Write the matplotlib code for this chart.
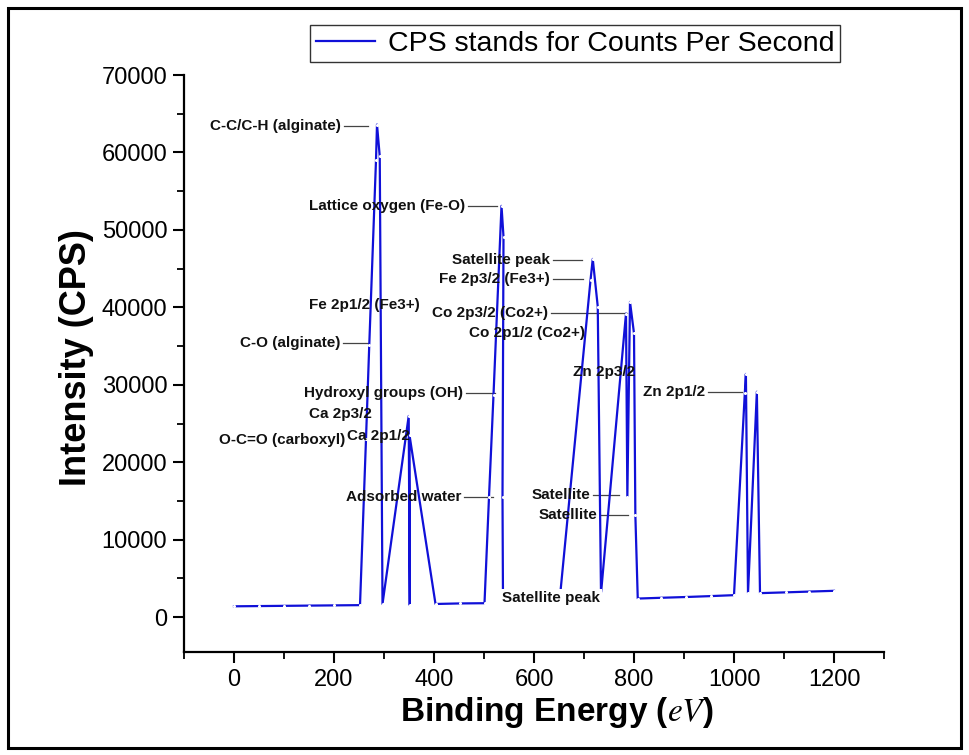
import matplotlib
matplotlib.use("Agg")
import matplotlib.pyplot as plt
from matplotlib.patches import Rectangle
from matplotlib.ticker import MultipleLocator

plt.rcParams['font.family'] = ['Liberation Sans', 'DejaVu Sans']
plt.rcParams['mathtext.fontset'] = 'stix'

# Spectrum (binding energy in eV, intensity in CPS)
energy = [0, 50, 100, 150, 200, 252, 264, 270.5, 284, 286, 291.5, 297,
          349.4, 351.5, 351, 403, 451, 501, 510, 519, 535, 539, 537, 538,
          651, 713, 717.5, 727.5, 734, 784, 786.7, 792, 800, 802.7, 807.5,
          854, 904, 954, 1000, 1021.6, 1023.8, 1028, 1045.7, 1052, 1103, 1150, 1200]
intensity = [1400, 1430, 1460, 1490, 1520, 1550, 23000, 35100, 59000, 63600, 59500, 1700,
             25970, 1550, 23500, 1700, 1770, 1800, 15500, 28700, 53100, 49100, 15500, 2000,
             2000, 43500, 46250, 40100, 3060, 39200, 15500, 40700, 36650, 13200, 2400,
             2500, 2600, 2720, 2840, 28900, 31400, 3100, 29100, 3100, 3200, 3300, 3400]

# Annotations: label, text end x, text y, leader target x (None = no leader)
labels = ["C-C/C-H (alginate)", "Lattice oxygen (Fe-O)", "Satellite peak", "Fe 2p3/2 (Fe3+)",
          "Fe 2p1/2 (Fe3+)", "Co 2p3/2 (Co2+)", "Co 2p1/2 (Co2+)", "C-O (alginate)",
          "Zn 2p3/2", "Zn 2p1/2", "Hydroxyl groups (OH)", "Ca 2p3/2", "O-C=O (carboxyl)",
          "Ca 2p1/2", "Adsorbed water", "Satellite", "Satellite", "Satellite peak"]
label_x = [214, 462, 632, 632, 372, 628, 702, 212, 802, 942, 458, 276, 222, 352, 454, 712, 726, 732]
label_y = [63390, 53060, 46090, 43640, 40280, 39250, 36660, 35370, 31630, 29050, 28920, 26210,
           22850, 23370, 15490, 15750, 13170, 2450]
target_x = [268, 526, 696, 698, None, 786, None, 268, None, 1016, 522, None, 228, None, 518, 770, 788, None]

fig = plt.figure(figsize=(9.69, 7.55), dpi=100)
ax = fig.add_axes([184/969, 1-652/755, 700/969, 577/755])

ax.plot(energy, intensity, color='#1010d8', lw=1.6, zorder=2,
        label='CPS stands for Counts Per Second')
ax.plot(energy, intensity, ls='none', marker='o', ms=2.2, mec='none', mfc='white', zorder=3)

for lab, tx, ty, gx in zip(labels, label_x, label_y, target_x):
    bbox = None
    if lab == "Satellite peak" and ty < 5000:
        bbox = dict(facecolor='white', edgecolor='none', pad=1.5)
    ax.text(tx, ty, lab, ha='right', va='center', fontsize=11, fontweight='bold',
            color='#111111', zorder=4, bbox=bbox)
    if gx is not None:
        ax.plot([tx + 5, gx], [ty, ty], color='#444444', lw=0.9, zorder=1)

ax.set_xlim(-100, 1300)
ax.set_ylim(-4500, 70000)
ax.xaxis.set_major_locator(MultipleLocator(200))
ax.xaxis.set_minor_locator(MultipleLocator(100))
ax.yaxis.set_major_locator(MultipleLocator(10000))
ax.yaxis.set_minor_locator(MultipleLocator(5000))
ax.set_xticks([0, 200, 400, 600, 800, 1000, 1200])
ax.set_yticks(range(0, 70001, 10000))

for s in ['top', 'right']:
    ax.spines[s].set_visible(False)
for s in ['left', 'bottom']:
    ax.spines[s].set_linewidth(1.6)
ax.tick_params(which='major', direction='out', length=8, width=1.5, labelsize=17, pad=4)
ax.tick_params(which='minor', direction='out', length=5, width=1.3)

ax.set_xlabel('Binding Energy ($\\it{eV}$)', fontsize=24, fontweight='bold')
ax.set_ylabel('Intensity (CPS)', fontsize=26, fontweight='bold')
ax.xaxis.set_label_coords(0.533, -0.075)
ax.yaxis.set_label_coords(-0.128, 0.51)

fig.legend(loc='upper left', bbox_to_anchor=(310/969, 1-25/755), fontsize=20.5,
           frameon=True, fancybox=False, edgecolor='#333333', framealpha=1,
           handlelength=2.1, borderpad=0.2, handletextpad=0.45, borderaxespad=0)

fig.patches.append(Rectangle((8/969, 1-748/755), 953/969, 740/755, transform=fig.transFigure,
                             fill=False, edgecolor='black', lw=2.2))

fig.savefig('out.png', dpi=100)
